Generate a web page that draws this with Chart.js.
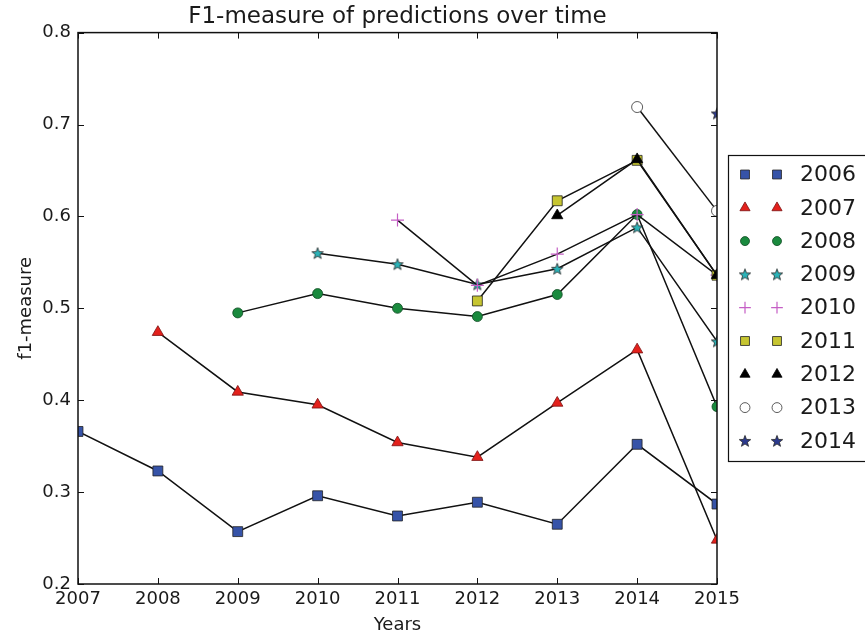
<!DOCTYPE html>
<html>
<head>
<meta charset="utf-8">
<script src="https://cdn.jsdelivr.net/npm/chart.js@4"></script>
<style>
  body { margin: 0; background: #fff; }
  #wrap { width: 865px; height: 636px; }
</style>
</head>
<body>
<div id="wrap"><canvas id="f1Chart" width="865" height="636"></canvas></div>
<script>
const years = [2007, 2008, 2009, 2010, 2011, 2012, 2013, 2014, 2015];
const seriesNames = ['2006', '2007', '2008', '2009', '2010', '2011', '2012', '2013', '2014'];

const f1_2006 = [0.366, 0.323, 0.257, 0.296, 0.274, 0.289, 0.265, 0.352, 0.287];
const f1_2007 = [null, 0.474, 0.409, 0.395, 0.354, 0.338, 0.397, 0.455, 0.248];
const f1_2008 = [null, null, 0.495, 0.516, 0.500, 0.491, 0.515, 0.602, 0.393];
const f1_2009 = [null, null, null, 0.560, 0.548, 0.526, 0.543, 0.588, 0.464];
const f1_2010 = [null, null, null, null, 0.596, 0.525, 0.559, 0.602, 0.536];
const f1_2011 = [null, null, null, null, null, 0.508, 0.617, 0.661, 0.536];
const f1_2012 = [null, null, null, null, null, null, 0.601, 0.662, 0.536];
const f1_2013 = [null, null, null, null, null, null, null, 0.719, 0.606];
const f1_2014 = [null, null, null, null, null, null, null, null, 0.712];

const yTicks = [0.2, 0.3, 0.4, 0.5, 0.6, 0.7, 0.8];

const FONT = "'DejaVu Sans', sans-serif";
const TEXT = '#1a1a1a';
const EDGE = '#222';

function starMarker(fill) {
  const c = document.createElement('canvas');
  c.width = 14;
  c.height = 14;
  const g = c.getContext('2d');
  g.beginPath();
  for (let i = 0; i < 10; i++) {
    const r = i % 2 === 0 ? 6 : 2.5;
    const a = -Math.PI / 2 + i * Math.PI / 5;
    const px = 7 + r * Math.cos(a);
    const py = 7.5 + r * Math.sin(a);
    if (i === 0) g.moveTo(px, py); else g.lineTo(px, py);
  }
  g.closePath();
  g.fillStyle = fill;
  g.fill();
  g.lineWidth = 0.8;
  g.strokeStyle = EDGE;
  g.stroke();
  return c;
}

const styles = [
  { pointStyle: 'rect', radius: 7, fill: '#3653a8', edge: EDGE },
  { pointStyle: 'triangle', radius: 6.5, fill: '#e3211c', edge: '#7a1010' },
  { pointStyle: 'circle', radius: 5, fill: '#1a8a3e', edge: '#0f4a22' },
  { pointStyle: starMarker('#2bb3b8'), radius: 6, fill: '#2bb3b8', edge: EDGE },
  { pointStyle: 'cross', radius: 6.5, fill: '#c55ec5', edge: '#c55ec5' },
  { pointStyle: 'rect', radius: 7, fill: '#c6c531', edge: EDGE },
  { pointStyle: 'triangle', radius: 6.5, fill: '#000', edge: '#000' },
  { pointStyle: 'circle', radius: 5.5, fill: '#fff', edge: '#333' },
  { pointStyle: starMarker('#2c3a8e'), radius: 6, fill: '#2c3a8e', edge: EDGE },
];

const allValues = [f1_2006, f1_2007, f1_2008, f1_2009, f1_2010, f1_2011, f1_2012, f1_2013, f1_2014];

const datasets = seriesNames.map((name, i) => {
  const s = styles[i];
  const data = years
    .map((x, j) => ({ x, y: allValues[i][j] }))
    .filter(p => p.y !== null);
  return {
    label: name,
    data,
    borderColor: '#111',
    borderWidth: 1.5,
    pointStyle: s.pointStyle,
    pointRadius: s.radius,
    pointBackgroundColor: s.fill,
    pointBorderColor: s.edge,
    pointBorderWidth: s.pointStyle === 'cross' ? 1.2 : 0.8,
    tension: 0,
    fill: false,
    clip: 0,
    order: seriesNames.length - i,
  };
});

// clip marks to the axes box, then draw a matplotlib-like frame with inward ticks
const framePlugin = {
  id: 'frame',
  beforeDatasetsDraw(chart) {
    const { ctx, chartArea: a } = chart;
    ctx.save();
    ctx.beginPath();
    ctx.rect(a.left, a.top, a.right - a.left, a.bottom - a.top);
    ctx.clip();
  },
  afterDatasetsDraw(chart) {
    const { ctx, chartArea: a, scales } = chart;
    ctx.restore();
    ctx.save();
    ctx.strokeStyle = '#111';
    ctx.lineWidth = 1;
    const len = 6;
    scales.x.ticks.forEach(t => {
      const px = Math.round(scales.x.getPixelForValue(t.value)) + 0.5;
      ctx.beginPath();
      ctx.moveTo(px, a.bottom);
      ctx.lineTo(px, a.bottom - len);
      ctx.moveTo(px, a.top);
      ctx.lineTo(px, a.top + len);
      ctx.stroke();
    });
    scales.y.ticks.forEach(t => {
      const py = Math.round(scales.y.getPixelForValue(t.value)) + 0.5;
      ctx.beginPath();
      ctx.moveTo(a.left, py);
      ctx.lineTo(a.left + len, py);
      ctx.moveTo(a.right, py);
      ctx.lineTo(a.right - len, py);
      ctx.stroke();
    });
    ctx.lineWidth = 1.5;
    ctx.strokeRect(a.left, a.top, a.right - a.left, a.bottom - a.top);
    ctx.restore();
  },
};

// legend with two markers per entry, placed outside right
const legendPlugin = {
  id: 'sideLegend',
  afterDraw(chart) {
    const { ctx } = chart;
    const boxX = 728.5, boxY = 155.5, boxW = 170, boxH = 306;
    ctx.save();
    ctx.fillStyle = '#fff';
    ctx.fillRect(boxX, boxY, boxW, boxH);
    ctx.strokeStyle = '#111';
    ctx.lineWidth = 1.2;
    ctx.strokeRect(boxX, boxY, boxW, boxH);
    chart.data.datasets.forEach((ds, i) => {
      const y = 174.5 + i * 33.3;
      [745, 777].forEach(x => {
        ctx.fillStyle = ds.pointBackgroundColor;
        ctx.strokeStyle = ds.pointBorderColor;
        ctx.lineWidth = ds.pointBorderWidth;
        Chart.helpers.drawPoint(ctx, {
          pointStyle: ds.pointStyle,
          radius: ds.pointRadius * 0.9,
          borderWidth: ds.pointBorderWidth,
          rotation: 0,
        }, x, y);
      });
      ctx.fillStyle = TEXT;
      ctx.font = '22px ' + FONT;
      ctx.textBaseline = 'middle';
      ctx.textAlign = 'left';
      ctx.fillText(ds.label, 800, y + 1);
    });
    ctx.restore();
  },
};

new Chart(document.getElementById('f1Chart'), {
  type: 'line',
  data: { datasets },
  options: {
    responsive: false,
    animation: false,
    layout: { padding: { left: 0, right: 148, top: 0, bottom: 0 } },
    plugins: {
      legend: { display: false },
      tooltip: { enabled: false },
      title: {
        display: true,
        text: 'F1-measure of predictions over time',
        fullSize: false,
        color: TEXT,
        font: { family: FONT, size: 23, weight: 'normal' },
        padding: { top: 3, bottom: 2 },
      },
    },
    scales: {
      x: {
        type: 'linear',
        min: years[0],
        max: years[years.length - 1],
        grid: { display: false, drawTicks: false },
        border: { display: false },
        ticks: {
          stepSize: 1,
          color: TEXT,
          padding: 5,
          maxRotation: 0,
          font: { family: FONT, size: 18 },
          callback: v => String(v),
        },
        title: {
          display: true,
          text: 'Years',
          color: TEXT,
          font: { family: FONT, size: 18 },
          padding: { top: 3, bottom: 0 },
        },
        afterFit: scale => { scale.height = 52; },
      },
      y: {
        type: 'linear',
        min: yTicks[0],
        max: yTicks[yTicks.length - 1],
        grid: { display: false, drawTicks: false },
        border: { display: false },
        afterBuildTicks: scale => { scale.ticks = yTicks.map(v => ({ value: v })); },
        ticks: {
          color: TEXT,
          padding: 7,
          font: { family: FONT, size: 18 },
          callback: v => v.toFixed(1),
        },
        title: {
          display: true,
          text: 'f1-measure',
          color: TEXT,
          font: { family: FONT, size: 18 },
          padding: { top: 16, bottom: 0 },
        },
        afterFit: scale => { scale.width = 78; },
      },
    },
  },
  plugins: [framePlugin, legendPlugin],
});
</script>
</body>
</html>
